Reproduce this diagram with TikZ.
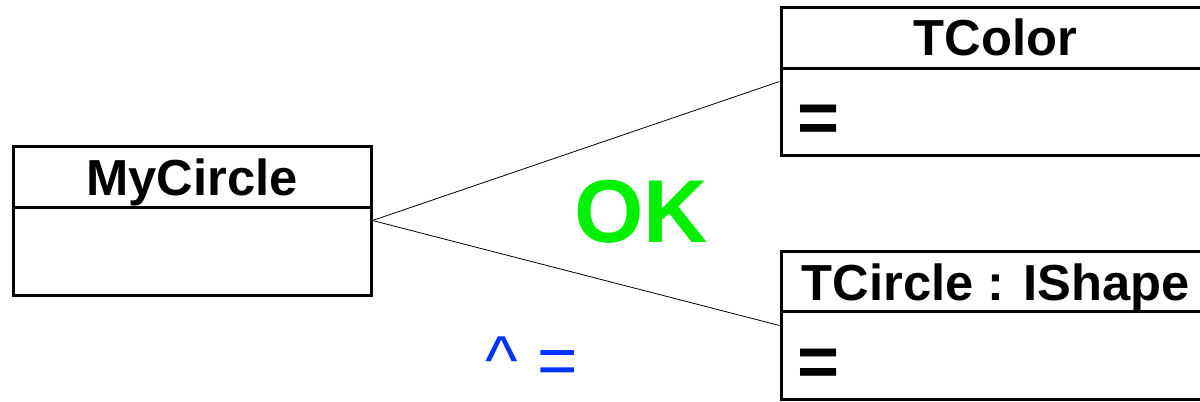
\documentclass[tikz,border=0pt]{standalone}
\usepackage{fontspec}
\setmainfont{Liberation Sans}
\usetikzlibrary{positioning}
\definecolor{okgreen}{RGB}{0,240,0}
\definecolor{hintblue}{RGB}{0,51,255}

\begin{document}
\begin{tikzpicture}[x=0.75pt, y=-0.75pt,
  classbox/.style={draw, line width=2.25pt, inner sep=0pt, minimum height=110.5pt},
  classname/.style={anchor=base, inner sep=0pt, font=\fontsize{38}{46}\selectfont\bfseries},
  member/.style={anchor=base west, inner sep=0pt, font=\fontsize{54}{60}\selectfont\bfseries},
  link/.style={draw, line width=0.6pt}]
\useasboundingbox (0,0) rectangle (1200,401);
% classes
\node[classbox, minimum width=268.5pt, minimum height=111.75pt] (mycircle) at (192,220.5) {};
\node[classbox, minimum width=321.75pt] (tcolor) at (995.5,81.5) {};
\node[classbox, minimum width=321.75pt] (tcircle) at (995.5,325.5) {};
% compartments
\draw[line width=2.25pt] ([yshift=-47pt]mycircle.north west) -- ([yshift=-47pt]mycircle.north east);
\draw[line width=2.25pt] ([yshift=-46.5pt]tcolor.north west) -- ([yshift=-46.5pt]tcolor.north east);
\draw[line width=2.25pt] ([yshift=-46pt]tcircle.north west) -- ([yshift=-46pt]tcircle.north east);
\node[classname] (mycirclename) at ([yshift=-38.25pt]mycircle.north) {MyCircle};
\node[classname] (tcolorname) at ([yshift=-37pt]tcolor.north) {TColor};
\node[classname] (tcirclename) at ([yshift=-37.5pt]tcircle.north) {TCircle : IShape};
\node[member] (tcoloreq) at ([xshift=13.5pt, yshift=-102pt]tcolor.north west) {=};
\node[member] (tcircleeq) at ([xshift=13.5pt, yshift=-102pt]tcircle.north west) {=};
% links
\draw[link] (mycircle.east) -- (tcolor.west);
\draw[link] (mycircle.east) -- (tcircle.west);
\node[anchor=base, inner sep=0pt, text=okgreen, font=\fontsize{67}{76}\selectfont\bfseries] (ok) at (641,242) {OK};
\node[anchor=base, inner sep=0pt, text=hintblue, font=\fontsize{52}{58}\selectfont] (hint) at (532,384) {\^{} =};
\end{tikzpicture}
\end{document}
